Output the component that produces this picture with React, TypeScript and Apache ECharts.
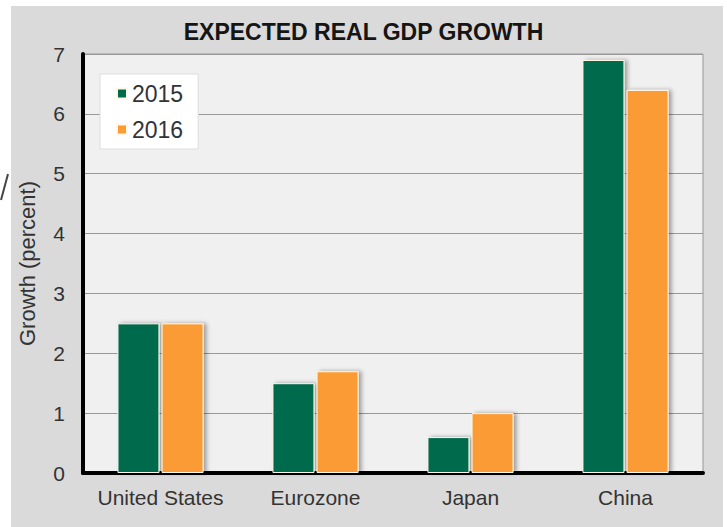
import React, { useEffect, useRef } from "react";
import * as echarts from "echarts";

const categories = ["United States", "Eurozone", "Japan", "China"];
const growth2015 = [2.5, 1.5, 0.6, 6.9];
const growth2016 = [2.5, 1.7, 1.0, 6.4];
const seriesNames = ["2015", "2016"];

export default function App() {
  const ref = useRef<HTMLDivElement>(null);
  useEffect(() => {
    if (!ref.current) return;
    const chart = echarts.init(ref.current, null, { renderer: "svg" });
    const barStyle = (color: string) => ({
      color,
      borderColor: "#fff8e6",
      borderWidth: 1,
      shadowBlur: 4,
      shadowColor: "rgba(0,0,0,0.35)",
      shadowOffsetX: 3,
      shadowOffsetY: 0,
    });
    chart.setOption({
      animation: false,
      backgroundColor: "#ffffff",
      title: {
        text: "EXPECTED REAL GDP GROWTH",
        left: "center",
        top: 20,
        padding: 0,
        textStyle: {
          fontFamily: "Liberation Sans",
          fontWeight: "bold",
          fontSize: 23,
          color: "#151515",
        },
      },
      graphic: [
        {
          type: "rect",
          z: -10,
          silent: true,
          shape: { x: 11, y: 6, width: 712, height: 521 },
          style: { fill: "#dadada" },
        },
        {
          type: "line",
          silent: true,
          shape: { x1: 8, y1: 174, x2: 1, y2: 200 },
          style: { stroke: "#444", lineWidth: 2 },
        },
      ],
      legend: {
        data: seriesNames,
        orient: "vertical",
        left: 100,
        top: 74,
        padding: [8, 15, 8, 16],
        itemGap: 13,
        itemWidth: 10,
        itemHeight: 10,
        icon: "rect",
        backgroundColor: "#ffffff",
        borderColor: "#dddddd",
        borderWidth: 1,
        textStyle: {
          fontFamily: "Liberation Sans",
          fontSize: 23,
          color: "#333",
        },
      },
      grid: {
        left: 83,
        right: 24,
        top: 54,
        bottom: 54,
        show: true,
        backgroundColor: "#f0f0f0",
        borderColor: "#999",
        borderWidth: 1,
      },
      xAxis: {
        type: "category",
        data: categories,
        axisLine: { show: true, lineStyle: { color: "#000", width: 4 } },
        axisTick: { show: false },
        axisLabel: {
          interval: 0,
          fontFamily: "Liberation Sans",
          fontSize: 21,
          color: "#333",
          margin: 14,
        },
      },
      yAxis: {
        type: "value",
        min: 0,
        max: 7,
        interval: 1,
        name: "Growth (percent)",
        nameLocation: "middle",
        nameRotate: 90,
        nameGap: 45,
        nameTextStyle: {
          fontFamily: "Liberation Sans",
          fontSize: 22,
          color: "#333",
        },
        axisLine: { show: true, lineStyle: { color: "#000", width: 4 } },
        axisTick: { show: false },
        splitLine: { show: true, lineStyle: { color: "#999", width: 1 } },
        axisLabel: {
          fontFamily: "Liberation Sans",
          fontSize: 21,
          color: "#333",
          margin: 18,
        },
      },
      series: [
        {
          name: seriesNames[0],
          type: "bar",
          data: growth2015,
          barWidth: 42,
          barGap: "5%",
          itemStyle: barStyle("#006a4d"),
        },
        {
          name: seriesNames[1],
          type: "bar",
          data: growth2016,
          barWidth: 42,
          barGap: "5%",
          itemStyle: barStyle("#fb9b34"),
        },
      ],
    });
    return () => chart.dispose();
  }, []);
  return (
    <div
      ref={ref}
      style={{ position: "fixed", left: 0, top: 0, width: 727, height: 527 }}
    />
  );
}
